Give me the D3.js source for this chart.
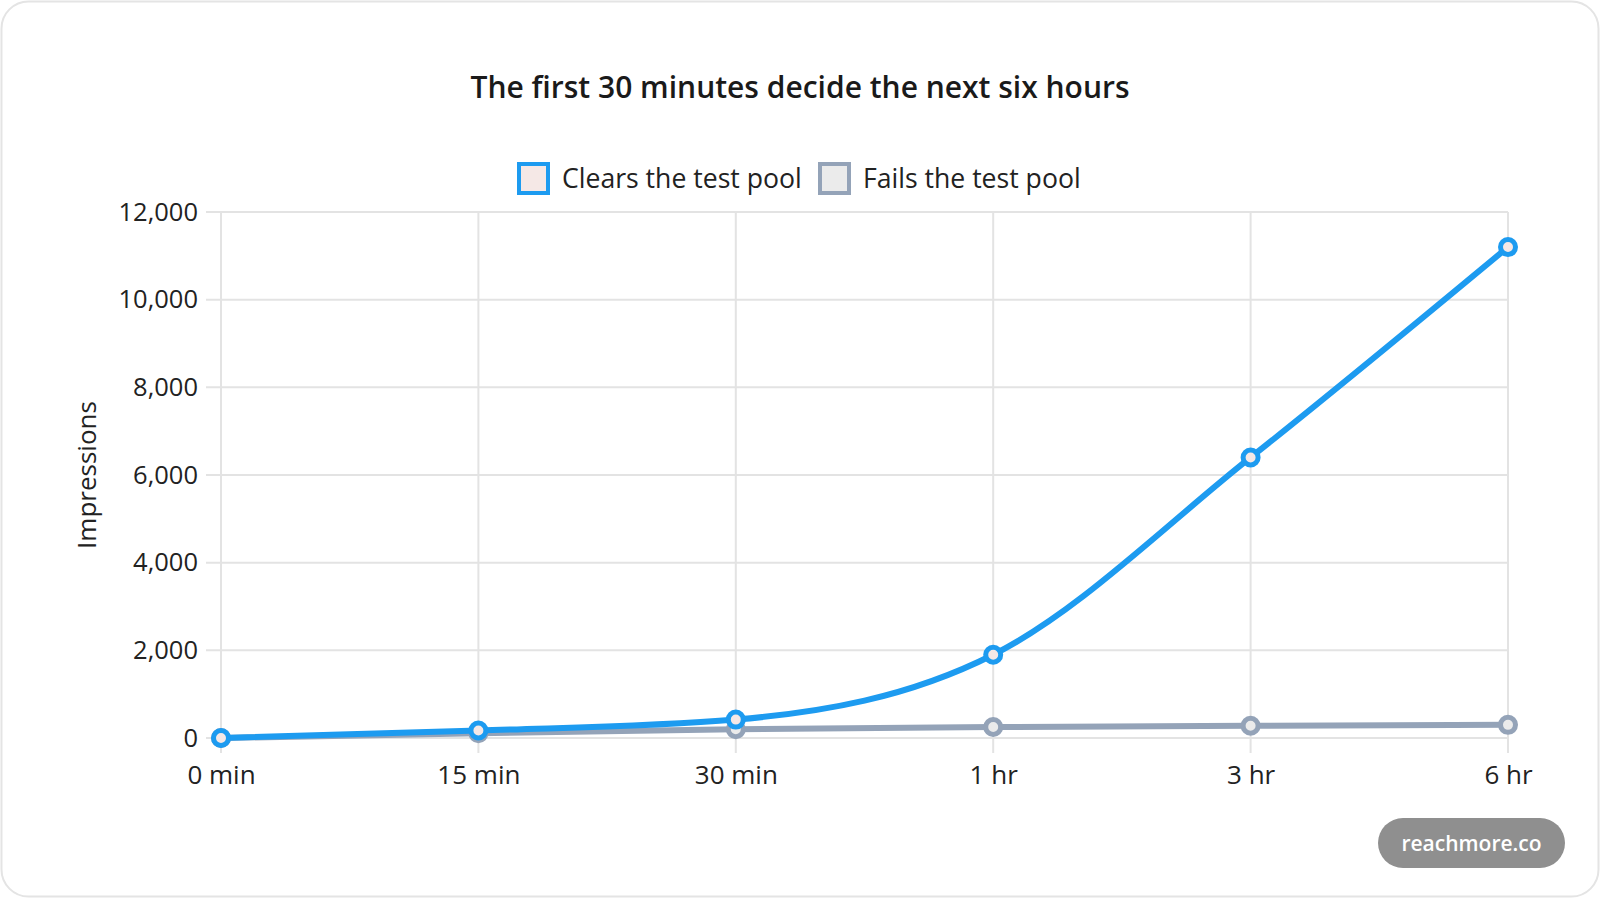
<!DOCTYPE html>
<html>
<head>
<meta charset="utf-8">
<script src="https://cdn.jsdelivr.net/npm/d3@7"></script>
<style>
  html, body { margin: 0; padding: 0; background: #fff; }
  svg { display: block; font-family: "Open Sans", "Noto Sans", sans-serif; }
</style>
</head>
<body>
<div id="chart"></div>
<script>
// first 30 minutes vs next six hours
var categories = ["0 min", "15 min", "30 min", "1 hr", "3 hr", "6 hr"];
var clearsValues = [0, 170, 420, 1900, 6400, 11200];
var failsValues = [0, 110, 200, 250, 280, 300];
var yTicks = [0, 2000, 4000, 6000, 8000, 10000, 12000];
var seriesNames = ["Clears the test pool", "Fails the test pool"];

var width = 1600, height = 898;
var plot = { left: 221, right: 1508, top: 212, bottom: 738 };

var svg = d3.select("#chart").append("svg")
    .attr("width", width)
    .attr("height", height);

// card
svg.append("rect")
    .attr("x", 1.5).attr("y", 1.5)
    .attr("width", width - 3).attr("height", height - 3)
    .attr("rx", 27).attr("ry", 27)
    .attr("fill", "#fff")
    .attr("stroke", "#e4e4e4")
    .attr("stroke-width", 2);

var x = d3.scalePoint()
    .domain(categories)
    .range([plot.left, plot.right]);

var y = d3.scaleLinear()
    .domain([0, 12000])
    .range([plot.bottom, plot.top]);

// grid
var grid = svg.append("g");
grid.selectAll(".hgrid")
    .data(yTicks)
    .enter().append("line")
    .attr("x1", plot.left - 15).attr("x2", plot.right)
    .attr("y1", function (d) { return y(d); })
    .attr("y2", function (d) { return y(d); })
    .attr("stroke", "#e3e3e3")
    .attr("stroke-width", 2);
grid.selectAll(".vgrid")
    .data(categories)
    .enter().append("line")
    .attr("x1", function (d) { return x(d); })
    .attr("x2", function (d) { return x(d); })
    .attr("y1", plot.top).attr("y2", plot.bottom + 15)
    .attr("stroke", "#e3e3e3")
    .attr("stroke-width", 2);

// axes (labels only, lines come from grid)
var yAxis = svg.append("g")
    .attr("transform", "translate(" + (plot.left - 23) + ",0)")
    .call(d3.axisLeft(y).tickValues(yTicks).tickFormat(d3.format(",")).tickSize(0).tickPadding(0));
yAxis.select(".domain").remove();
yAxis.selectAll("text")
    .attr("font-size", "25.5px")
    .attr("font-family", "Open Sans, sans-serif")
    .attr("fill", "#222");

var xAxis = svg.append("g")
    .attr("transform", "translate(0," + (plot.bottom + 28) + ")")
    .call(d3.axisBottom(x).tickSize(0).tickPadding(0));
xAxis.select(".domain").remove();
xAxis.selectAll("text")
    .attr("dy", "0.71em")
    .attr("font-size", "26px")
    .attr("font-family", "Open Sans, sans-serif")
    .attr("fill", "#222");

svg.append("text")
    .attr("transform", "translate(87," + ((plot.top + plot.bottom) / 2) + ") rotate(-90)")
    .attr("text-anchor", "middle")
    .attr("dy", "0.35em")
    .attr("font-size", "26px")
    .attr("fill", "#222")
    .text("Impressions");

// title
svg.append("text")
    .attr("x", width / 2).attr("y", 87)
    .attr("dy", "0.35em")
    .attr("text-anchor", "middle")
    .attr("font-size", "30px")
    .attr("font-weight", "600")
    .attr("fill", "#1a1a1a")
    .text("The first 30 minutes decide the next six hours");

// series
var series = [
    { name: seriesNames[1], values: failsValues, stroke: "#94a3b8", fill: "#ebebeb" },
    { name: seriesNames[0], values: clearsValues, stroke: "#1d9bf0", fill: "#f5e8e6" }
];

var line = d3.line()
    .x(function (d, i) { return x(categories[i]); })
    .y(function (d) { return y(d); })
    .curve(d3.curveMonotoneX);

series.forEach(function (s) {
    var g = svg.append("g");
    g.append("path")
        .attr("d", line(s.values))
        .attr("fill", "none")
        .attr("stroke", s.stroke)
        .attr("stroke-width", 6)
        .attr("stroke-linejoin", "round");
    g.selectAll("circle")
        .data(s.values)
        .enter().append("circle")
        .attr("cx", function (d, i) { return x(categories[i]); })
        .attr("cy", function (d) { return y(d); })
        .attr("r", 7.5)
        .attr("fill", s.fill)
        .attr("stroke", s.stroke)
        .attr("stroke-width", 5);
});

// legend
var legendItems = [
    { name: seriesNames[0], stroke: "#1d9bf0", fill: "#f5e8e6", x: 519 },
    { name: seriesNames[1], stroke: "#94a3b8", fill: "#ebebeb", x: 820 }
];
var legend = svg.append("g").selectAll("g")
    .data(legendItems)
    .enter().append("g")
    .attr("transform", function (d) { return "translate(" + d.x + ",178.5)"; });
legend.append("rect")
    .attr("x", 0).attr("y", -14.5)
    .attr("width", 29).attr("height", 29)
    .attr("fill", function (d) { return d.fill; })
    .attr("stroke", function (d) { return d.stroke; })
    .attr("stroke-width", 4);
legend.append("text")
    .attr("x", 43)
    .attr("dy", "0.35em")
    .attr("font-size", "26.6px")
    .attr("fill", "#222")
    .text(function (d) { return d.name; });

// watermark pill
var pill = svg.append("g").attr("transform", "translate(1378,818)");
pill.append("rect")
    .attr("width", 187).attr("height", 50)
    .attr("rx", 25).attr("ry", 25)
    .attr("fill", "#8f8f8f");
pill.append("text")
    .attr("x", 93.5).attr("y", 26)
    .attr("dy", "0.35em")
    .attr("text-anchor", "middle")
    .attr("font-size", "21px")
    .attr("font-weight", "600")
    .attr("fill", "#fff")
    .text("reachmore.co");
</script>
</body>
</html>
